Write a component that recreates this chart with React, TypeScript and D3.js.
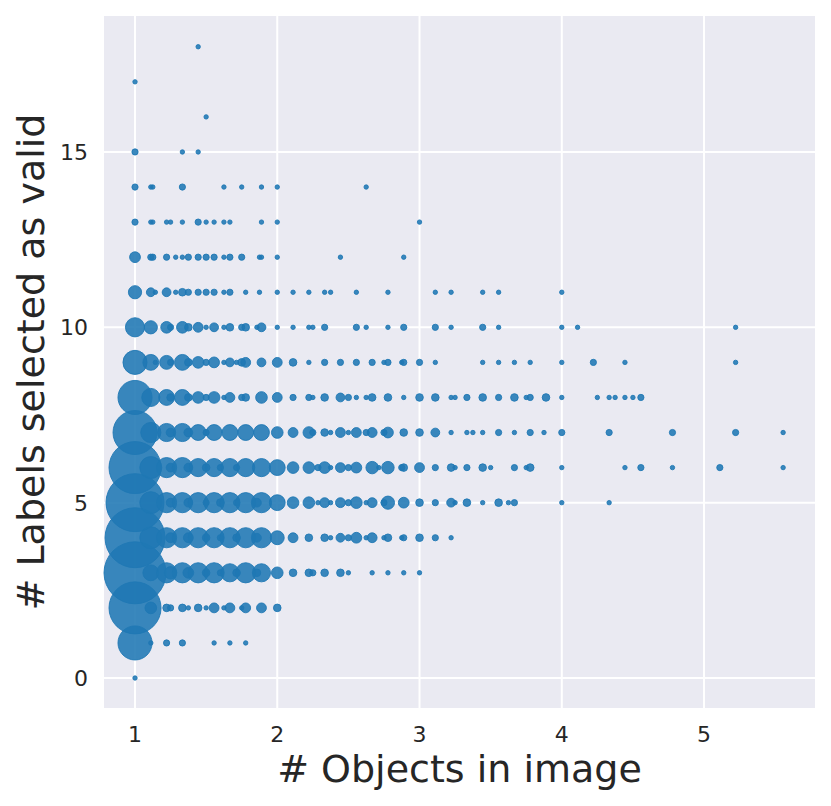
import React from 'react';
import * as d3 from 'd3';

type Pt = [number, number]; // [objects in image, number of samples]

const row0: Pt[] = [[1, 1]];
const row1: Pt[] = [[1, 60], [1.111, 1], [1.222, 2], [1.333, 2], [1.556, 1], [1.667, 1], [1.778, 1]];
const row2: Pt[] = [[1, 140], [1.111, 7], [1.222, 3], [1.25, 2], [1.333, 3], [1.375, 1], [1.444, 3], [1.5, 1], [1.556, 5], [1.625, 1], [1.667, 5], [1.75, 1], [1.778, 5], [1.889, 5], [2.0, 3]];
const row3: Pt[] = [[1, 199], [1.111, 13], [1.222, 21], [1.25, 8], [1.333, 21], [1.375, 6], [1.444, 21], [1.5, 3], [1.556, 21], [1.6, 2], [1.667, 17], [1.714, 3], [1.778, 21], [1.857, 3], [1.889, 17], [2.0, 7], [2.111, 3], [2.222, 3], [2.25, 2], [2.333, 3], [2.444, 3], [2.5, 1], [2.667, 1], [2.778, 1], [2.889, 1], [3.0, 1]];
const row4: Pt[] = [[1, 186], [1.111, 25], [1.222, 21], [1.25, 5], [1.333, 21], [1.375, 5], [1.444, 21], [1.5, 3], [1.556, 21], [1.6, 2], [1.667, 21], [1.714, 3], [1.778, 21], [1.857, 4], [1.889, 21], [2.0, 10], [2.111, 5], [2.222, 3], [2.333, 3], [2.375, 1], [2.444, 4], [2.5, 2], [2.556, 6], [2.625, 1], [2.667, 5], [2.75, 1], [2.778, 3], [2.875, 1], [2.889, 2], [3.0, 3], [3.111, 2], [3.222, 1]];
const row5: Pt[] = [[1, 174], [1.111, 25], [1.222, 21], [1.25, 4], [1.333, 21], [1.375, 4], [1.444, 21], [1.5, 2], [1.556, 21], [1.6, 3], [1.667, 21], [1.714, 2], [1.778, 21], [1.857, 4], [1.889, 21], [2.0, 13], [2.111, 7], [2.222, 7], [2.286, 1], [2.333, 5], [2.375, 1], [2.444, 5], [2.5, 2], [2.556, 7], [2.625, 1], [2.667, 5], [2.75, 2], [2.778, 9], [2.889, 6], [3.0, 3], [3.111, 2], [3.222, 4], [3.25, 1], [3.333, 3], [3.444, 1], [3.556, 3], [3.625, 1], [3.667, 2], [4.0, 1], [4.333, 1]];
const row6: Pt[] = [[1, 140], [1.111, 25], [1.222, 21], [1.25, 4], [1.333, 21], [1.375, 4], [1.444, 17], [1.5, 3], [1.556, 17], [1.6, 2], [1.667, 17], [1.714, 2], [1.778, 17], [1.889, 17], [2.0, 13], [2.111, 7], [2.222, 7], [2.286, 2], [2.333, 7], [2.375, 1], [2.444, 5], [2.5, 2], [2.556, 6], [2.667, 8], [2.714, 1], [2.778, 8], [2.875, 2], [2.889, 3], [3.0, 5], [3.111, 2], [3.222, 3], [3.25, 1], [3.333, 2], [3.444, 3], [3.5, 1], [3.667, 2], [3.75, 1], [3.778, 3], [4.0, 1], [4.444, 1], [4.556, 2], [4.778, 1], [5.111, 2], [5.556, 1]];
const row7: Pt[] = [[1, 100], [1.111, 21], [1.222, 17], [1.25, 4], [1.333, 17], [1.375, 4], [1.444, 13], [1.5, 2], [1.556, 13], [1.667, 13], [1.778, 13], [1.889, 13], [2.0, 7], [2.111, 5], [2.222, 7], [2.25, 2], [2.333, 3], [2.375, 1], [2.444, 5], [2.5, 1], [2.556, 5], [2.625, 2], [2.667, 5], [2.75, 2], [2.778, 6], [2.889, 3], [3.0, 3], [3.111, 4], [3.222, 1], [3.333, 1], [3.375, 1], [3.444, 1], [3.556, 2], [3.667, 1], [3.778, 2], [3.875, 1], [4.0, 2], [4.333, 2], [4.778, 2], [5.222, 2], [5.556, 1]];
const row8: Pt[] = [[1, 60], [1.111, 17], [1.222, 13], [1.25, 3], [1.333, 13], [1.375, 3], [1.444, 7], [1.5, 2], [1.556, 7], [1.625, 1], [1.667, 5], [1.75, 2], [1.778, 3], [1.889, 7], [2.0, 5], [2.111, 2], [2.222, 2], [2.25, 1], [2.333, 3], [2.444, 4], [2.5, 2], [2.556, 1], [2.625, 1], [2.667, 3], [2.778, 3], [2.889, 1], [3.0, 3], [3.111, 3], [3.222, 1], [3.25, 1], [3.333, 2], [3.444, 3], [3.556, 2], [3.667, 3], [3.75, 1], [3.778, 2], [3.889, 3], [4.0, 1], [4.25, 1], [4.333, 1], [4.375, 1], [4.444, 1], [4.5, 1], [4.556, 2]];
const row9: Pt[] = [[1, 30], [1.111, 13], [1.143, 1], [1.222, 10], [1.25, 2], [1.333, 13], [1.375, 3], [1.444, 7], [1.5, 2], [1.556, 6], [1.625, 1], [1.667, 4], [1.714, 1], [1.75, 3], [1.778, 5], [1.889, 4], [2.0, 5], [2.111, 3], [2.222, 1], [2.333, 2], [2.444, 2], [2.556, 2], [2.667, 2], [2.75, 1], [2.778, 2], [2.875, 1], [2.889, 2], [3.0, 2], [3.111, 1], [3.444, 1], [3.556, 1], [3.667, 1], [3.778, 1], [4.0, 1], [4.222, 2], [4.444, 1], [5.222, 1]];
const row10: Pt[] = [[1, 19], [1.111, 9], [1.222, 7], [1.25, 2], [1.333, 7], [1.375, 3], [1.444, 5], [1.5, 1], [1.556, 4], [1.625, 1], [1.667, 3], [1.75, 2], [1.778, 3], [1.857, 1], [1.889, 4], [2.0, 1], [2.111, 1], [2.222, 1], [2.25, 1], [2.333, 2], [2.556, 2], [2.625, 1], [2.778, 1], [2.889, 2], [3.111, 2], [3.222, 1], [3.444, 2], [3.556, 1], [4.0, 1], [4.111, 1], [5.222, 1]];
const row11: Pt[] = [[1, 9], [1.111, 4], [1.143, 1], [1.222, 4], [1.286, 1], [1.333, 3], [1.375, 2], [1.444, 2], [1.5, 2], [1.556, 2], [1.625, 1], [1.667, 2], [1.778, 1], [1.875, 1], [2.0, 1], [2.111, 1], [2.222, 1], [2.333, 1], [2.375, 1], [2.556, 1], [2.778, 1], [3.111, 1], [3.222, 1], [3.444, 1], [3.556, 1], [4.0, 1]];
const row12: Pt[] = [[1, 6], [1.111, 2], [1.125, 2], [1.222, 2], [1.286, 1], [1.333, 1], [1.375, 2], [1.444, 2], [1.5, 2], [1.556, 2], [1.625, 1], [1.667, 2], [1.75, 2], [1.875, 1], [1.889, 1], [2.0, 1], [2.444, 1], [2.889, 1]];
const row13: Pt[] = [[1, 2], [1.111, 1], [1.125, 1], [1.222, 1], [1.25, 1], [1.333, 1], [1.444, 2], [1.5, 1], [1.556, 1], [1.625, 1], [1.667, 1], [1.889, 1], [2.0, 1], [3.0, 1]];
const row14: Pt[] = [[1, 2], [1.111, 1], [1.125, 1], [1.333, 2], [1.625, 1], [1.75, 1], [1.889, 1], [2.0, 1], [2.625, 1]];
const row15: Pt[] = [[1, 2], [1.333, 1], [1.444, 1]];
const row16: Pt[] = [[1.5, 1]];
const row17: Pt[] = [[1, 1]];
const row18: Pt[] = [[1.444, 1]];

const rows: Pt[][] = [row0, row1, row2, row3, row4, row5, row6, row7, row8, row9, row10, row11, row12, row13, row14, row15, row16, row17, row18];

const xTicks = [1, 2, 3, 4, 5];
const yTicks = [0, 5, 10, 15];
const xLabel = '# Objects in image';
const yLabel = '# Labels selected as valid';

export default function App() {
  const W = 831, H = 806;
  const left = 104, right = 815, top = 16, bottom = 708;
  const x = d3.scaleLinear().domain([0.782, 5.78]).range([left, right]);
  const y = d3.scaleLinear().domain([-0.855, 18.877]).range([bottom, top]);
  const r = d3.scaleSqrt().domain([0, 200]).range([0, 31.1]);
  const points = rows.flatMap((row, yi) => row.map(([xv, c]) => ({ xv, yv: yi, c })));
  const font = 'DejaVu Sans, sans-serif';
  const color = '#1f77b4';
  return (
    <svg width={W} height={H} style={{ position: 'absolute', left: 0, top: 0 }} fontFamily={font}>
      <rect x={0} y={0} width={W} height={H} fill="#ffffff" />
      <rect x={left} y={top} width={right - left} height={bottom - top} fill="#EAEAF2" />
      {xTicks.map(t => (
        <line key={'gx' + t} x1={x(t)} x2={x(t)} y1={top} y2={bottom} stroke="#fff" strokeWidth={2} />
      ))}
      {yTicks.map(t => (
        <line key={'gy' + t} x1={left} x2={right} y1={y(t)} y2={y(t)} stroke="#fff" strokeWidth={2} />
      ))}
      <g>
        {points.map((p, i) => (
          <circle key={i} cx={x(p.xv)} cy={y(p.yv)} r={r(p.c)} fill={color} fillOpacity={0.88}
            stroke={color} strokeOpacity={0.88} strokeWidth={1} />
        ))}
      </g>
      {xTicks.map(t => (
        <text key={'tx' + t} x={x(t)} y={742} textAnchor="middle" fontSize={22} fill="#262626">{t}</text>
      ))}
      {yTicks.map(t => (
        <text key={'ty' + t} x={88} y={y(t)} dy="0.36em" textAnchor="end" fontSize={22} fill="#262626">{t}</text>
      ))}
      <text x={(left + right) / 2} y={782} textAnchor="middle" fontSize={38} fill="#262626">{xLabel}</text>
      <text transform={`translate(44,${(top + bottom) / 2}) rotate(-90)`} textAnchor="middle" fontSize={38} fill="#262626">{yLabel}</text>
    </svg>
  );
}
